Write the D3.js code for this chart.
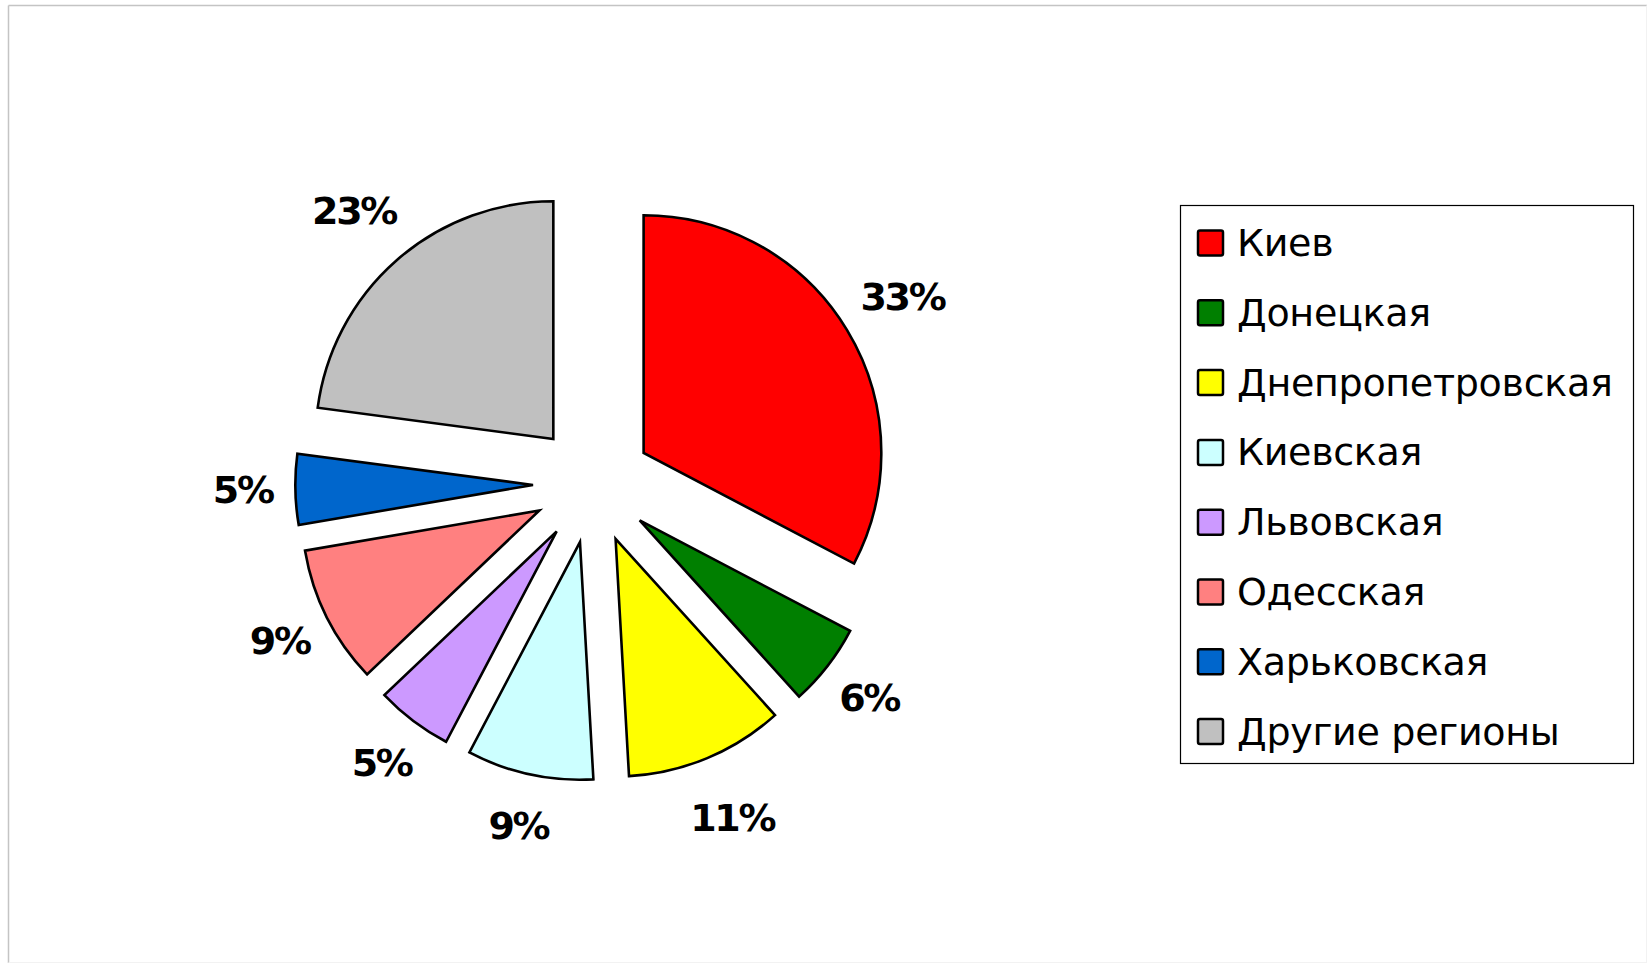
<!DOCTYPE html>
<html>
<head>
<meta charset="utf-8">
<script src="https://cdn.jsdelivr.net/npm/d3@7"></script>
<style>
  html, body { margin: 0; padding: 0; background: #fff; }
  svg { display: block; }
</style>
</head>
<body>
<div id="chart"></div>
<script>
// Regions and their shares (%)
const regions = ["Киев", "Донецкая", "Днепропетровская", "Киевская", "Львовская", "Одесская", "Харьковская", "Другие регионы"];
const shares = [32.7, 5.6, 10.8, 8.6, 5.2, 9.4, 4.8, 22.9];
const colors = ["#ff0000", "#007f00", "#ffff00", "#ccffff", "#cc99ff", "#ff8080", "#0066cc", "#c0c0c0"];

window.onload = function () {
  const W = 1649, H = 966;

  const svg = d3.select("#chart")
    .append("svg")
    .attr("width", W)
    .attr("height", H);

  // light frame around the picture
  svg.append("line").attr("x1", 8.5).attr("y1", 5.5).attr("x2", 8.5).attr("y2", 963)
    .attr("stroke", "#c4c4c4").attr("stroke-width", 1.5);
  svg.append("line").attr("x1", 8.5).attr("y1", 5.5).attr("x2", 1647).attr("y2", 5.5)
    .attr("stroke", "#c4c4c4").attr("stroke-width", 1.5);
  svg.append("line").attr("x1", 1646.5).attr("y1", 5.5).attr("x2", 1646.5).attr("y2", 963)
    .attr("stroke", "#f2f2f2").attr("stroke-width", 1);
  svg.append("line").attr("x1", 8.5).attr("y1", 962.5).attr("x2", 1647).attr("y2", 962.5)
    .attr("stroke", "#f2f2f2").attr("stroke-width", 1);

  // Pie
  const cx = 592.6, cy = 483.8;
  const radius = 237.7;
  const explode = 59.6;
  const labelBase = 320; // distance from pie centre to inner edge of a label

  const data = regions.map((name, i) => ({ name, value: shares[i], color: colors[i] }));

  const pie = d3.pie().sort(null).value((d) => d.value);
  const arcs = pie(data);
  const arc = d3.arc().innerRadius(0).outerRadius(radius);

  const g = svg.append("g").attr("transform", `translate(${cx},${cy})`);

  const offset = (d, r) => {
    const a = (d.startAngle + d.endAngle) / 2;
    return [Math.sin(a) * r, -Math.cos(a) * r];
  };

  g.selectAll("path.slice")
    .data(arcs)
    .enter()
    .append("path")
    .attr("class", "slice")
    .attr("d", arc)
    .attr("transform", (d) => `translate(${offset(d, explode)})`)
    .attr("fill", (d) => d.data.color)
    .attr("stroke", "#000")
    .attr("stroke-width", 2.6)
    .attr("stroke-linejoin", "miter");

  g.selectAll("text.pct")
    .data(arcs)
    .enter()
    .append("text")
    .attr("class", "pct")
    .attr("text-anchor", "middle")
    .attr("dominant-baseline", "central")
    .style("font-family", "'DejaVu Sans', sans-serif")
    .style("font-weight", "bold")
    .style("font-size", "38px")
    .style("letter-spacing", "-2.3px")
    .style("fill", "#000")
    .text((d) => Math.round(d.data.value) + "%")
    .each(function (d) {
      const w = this.getComputedTextLength();
      const p = offset(d, labelBase + w / 2);
      d3.select(this).attr("x", p[0]).attr("y", p[1]);
    });

  // Legend
  const legend = svg.append("g").attr("transform", "translate(1180,205)");
  legend.append("rect")
    .attr("x", 0.5).attr("y", 0.5)
    .attr("width", 453).attr("height", 558)
    .attr("fill", "#fff")
    .attr("stroke", "#000")
    .attr("stroke-width", 1.2);

  const rowY = d3.scalePoint().domain(regions).range([38, 38 + 69.8 * 7]);

  const item = legend.selectAll("g.item")
    .data(data)
    .enter()
    .append("g")
    .attr("class", "item")
    .attr("transform", (d) => `translate(0,${rowY(d.name)})`);

  item.append("rect")
    .attr("x", 18).attr("y", -12.5)
    .attr("width", 25).attr("height", 25)
    .attr("rx", 2)
    .attr("fill", (d) => d.color)
    .attr("stroke", "#000")
    .attr("stroke-width", 2.5);

  item.append("text")
    .attr("x", 57)
    .attr("y", 0)
    .attr("dominant-baseline", "central")
    .style("font-family", "'DejaVu Sans', sans-serif")
    .style("font-size", "38px")
    .style("letter-spacing", "-0.3px")
    .style("fill", "#000")
    .text((d) => d.name);
};
</script>
</body>
</html>
